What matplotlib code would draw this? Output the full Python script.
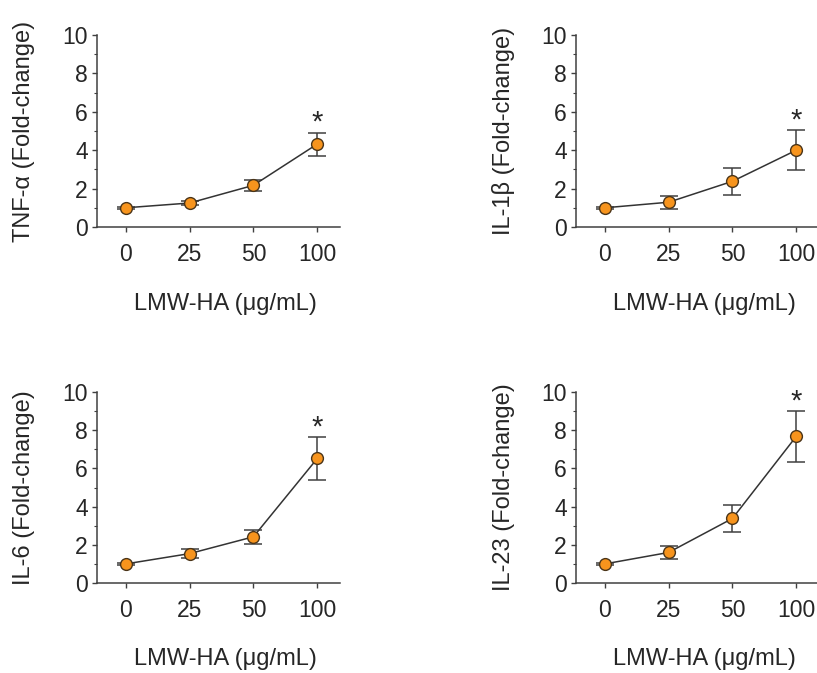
import matplotlib.pyplot as plt
import numpy as np

plt.rcParams['font.family'] = ['Liberation Sans', 'DejaVu Sans']

# doses (categorical x positions)
doses = ['0', '25', '50', '100']

# means and SEM
tnf_mean = [1.0, 1.25, 2.17, 4.32]
tnf_err = [0.05, 0.13, 0.27, 0.60]
il1b_mean = [1.0, 1.29, 2.38, 4.0]
il1b_err = [0.05, 0.33, 0.71, 1.04]
il6_mean = [1.0, 1.54, 2.42, 6.52]
il6_err = [0.05, 0.22, 0.38, 1.12]
il23_mean = [1.0, 1.60, 3.38, 7.68]
il23_err = [0.05, 0.33, 0.70, 1.32]

ylabels = ['TNF-\u03b1 (Fold-change)', 'IL-1\u03b2 (Fold-change)',
           'IL-6 (Fold-change)', 'IL-23 (Fold-change)']
means = [tnf_mean, il1b_mean, il6_mean, il23_mean]
errs = [tnf_err, il1b_err, il6_err, il23_err]
star_idx = 3  # significant at 100 ug/mL

txt = '#262626'
axc = '#404040'

fig = plt.figure(figsize=(8.17, 6.73), dpi=100)
# panel positions [left, bottom, width, height] in figure fraction
boxes = [[0.1187, 0.6627, 0.297, 0.2853],
         [0.705, 0.6627, 0.297, 0.2853],
         [0.1187, 0.1337, 0.297, 0.2838],
         [0.705, 0.1337, 0.297, 0.2838]]
ylab_x = [-0.255, -0.25, -0.255, -0.25]

x = np.arange(len(doses))
for box, m, e, lab, lx in zip(boxes, means, errs, ylabels, ylab_x):
    ax = fig.add_axes(box)
    ax.errorbar(x, m, yerr=e, fmt='none', ecolor=axc, elinewidth=1.1,
                capsize=6.5, capthick=1.1, zorder=2)
    ax.plot(x, m, '-', color='#333333', lw=1.1, zorder=3)
    ax.plot(x, m, 'o', ms=8.5, mfc='#F7941D', mec='#4a3418', mew=1.0, zorder=4)
    ax.text(x[star_idx], m[star_idx] + e[star_idx] + 0.1, '*', ha='center',
            va='baseline', fontsize=21, color=txt)

    ax.set_xlim(-0.45, 3.35)
    ax.set_ylim(0, 10)
    ax.set_xticks(x)
    ax.set_xticklabels(doses)
    ax.set_yticks(np.arange(0, 11, 2))
    ax.set_yticks(np.arange(1, 10, 2), minor=True)
    for s in ['top', 'right']:
        ax.spines[s].set_visible(False)
    for s in ['left', 'bottom']:
        ax.spines[s].set_color(axc)
        ax.spines[s].set_linewidth(1.1)
    ax.tick_params(axis='both', which='major', labelsize=16.5, colors=axc,
                   labelcolor=txt, length=3.5, width=1.0)
    ax.tick_params(axis='y', which='minor', length=2, width=0.8, colors=axc)
    ax.tick_params(axis='x', pad=8)
    ax.tick_params(axis='y', pad=3)
    ax.set_ylabel(lab, fontsize=17, color=txt)
    ax.yaxis.set_label_coords(lx, 0.5)
    ax.set_xlabel('LMW-HA (\u03bcg/mL)', fontsize=17, color=txt)
    ax.xaxis.label.set_va('center')
    ax.xaxis.set_label_coords(0.53, -0.40)

fig.savefig('out.png', dpi=100)
